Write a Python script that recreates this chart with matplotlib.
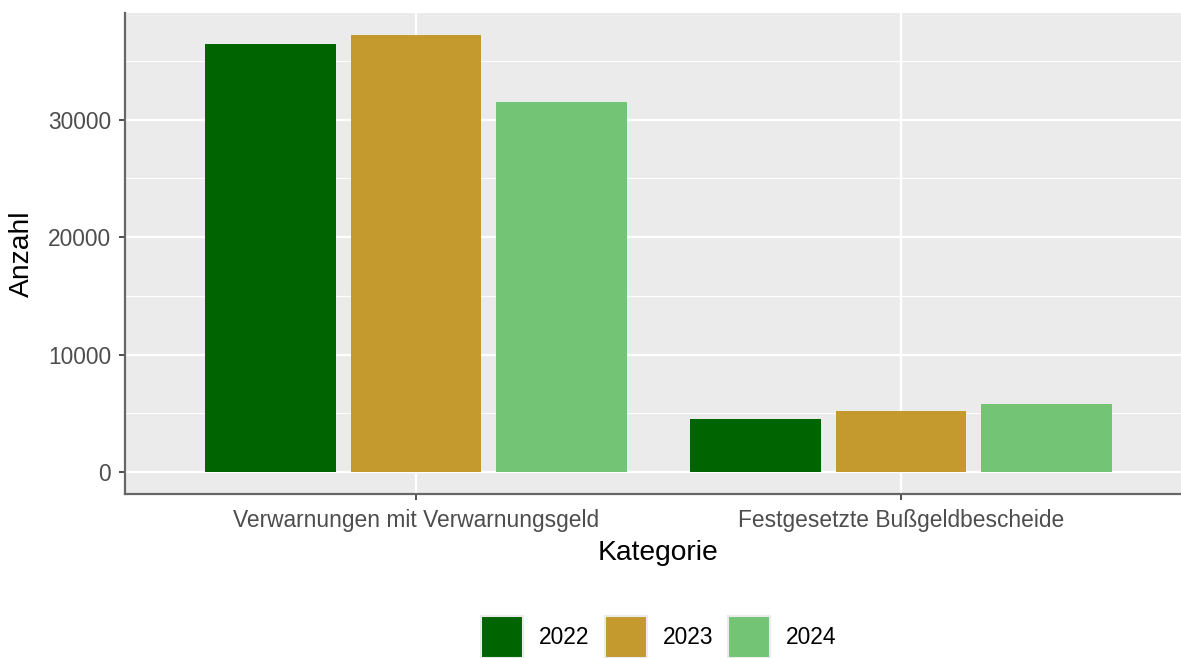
import matplotlib.pyplot as plt
from matplotlib.patches import Rectangle
import numpy as np

# Daten
kategorien = ['Verwarnungen mit Verwarnungsgeld', 'Festgesetzte Bußgeldbescheide']
jahre = ['2022', '2023', '2024']
werte_2022 = [36450, 4500]
werte_2023 = [37220, 5180]
werte_2024 = [31520, 5780]
farben = ['#006400', '#C49A2E', '#74C476']

plt.rcParams['font.family'] = ['Liberation Sans', 'DejaVu Sans']

W, H = 1181, 658
fig = plt.figure(figsize=(W / 100, H / 100), dpi=100)

# Panel: links 125px, oben 13px, unten 494px, rechts abgeschnitten
left, top, bottom = 125, 13, 494
ax = fig.add_axes([left / W, 1 - bottom / H, (W - left) / W, (bottom - top) / H])

unit_px = 485.0  # Pixel je Kategorie
x = np.arange(1, len(kategorien) + 1)
ax.set_xlim(0.4, 0.4 + (W - left) / unit_px)
ax.set_ylim(-1860, 39080)

ax.set_facecolor('#EBEBEB')
ax.set_axisbelow(True)

# Gitter
for yv in [0, 10000, 20000, 30000]:
    ax.axhline(yv, color='white', lw=1.6, zorder=0)
for yv in [5000, 15000, 25000, 35000]:
    ax.axhline(yv, color='white', lw=0.8, zorder=0)
for xv in x:
    ax.axvline(xv, color='white', lw=1.6, zorder=0)

alle_werte = [werte_2022, werte_2023, werte_2024]
for i, (werte, farbe) in enumerate(zip(alle_werte, farben)):
    ax.bar(x + (i - 1) * 0.3, werte, width=0.27, color=farbe, zorder=2)

ax.set_xticks(x)
ax.set_xticklabels(kategorien)
ax.set_yticks([0, 10000, 20000, 30000])
ax.set_yticklabels(['0', '10000', '20000', '30000'])

for s in ['top', 'right']:
    ax.spines[s].set_visible(False)
for s in ['left', 'bottom']:
    ax.spines[s].set_color('#666666')
    ax.spines[s].set_linewidth(1.6)

ax.tick_params(axis='both', colors='#4D4D4D', labelsize=16.4, length=4.5, width=1.4, pad=5.5)
ax.tick_params(axis='x', pad=6.5)

ax.set_xlabel('Kategorie', fontsize=20.3, color='black')
ax.set_ylabel('Anzahl', fontsize=20.3, color='black')
ax.xaxis.set_label_coords((658.5 - left) / (W - left), -(553 - bottom) / (bottom - top))
ax.yaxis.set_label_coords(-(left - 22) / (W - left), (bottom - 254) / (bottom - top))
ax.xaxis.label.set_va('center')
ax.yaxis.label.set_va('center')

# Legende von Hand (ggplot-Stil, unten)
renderer = fig.canvas.get_renderer()
key = 42
lx = 481
ky = 616  # Oberkante der Schlüssel in Pixeln
for jahr, farbe in zip(jahre, farben):
    fig.patches.append(Rectangle((lx / W, 1 - (ky + key) / H), key / W, key / H,
                                 transform=fig.transFigure, facecolor=farbe,
                                 edgecolor='#EBEBEB', linewidth=1.5))
    t = fig.text((lx + key + 16) / W, 1 - (ky + key / 2 + 1) / H, jahr,
                 fontsize=16.4, color='black', va='center', ha='left')
    bb = t.get_window_extent(renderer)
    lx = bb.x1 + 15

fig.savefig('out.png', dpi=100)
